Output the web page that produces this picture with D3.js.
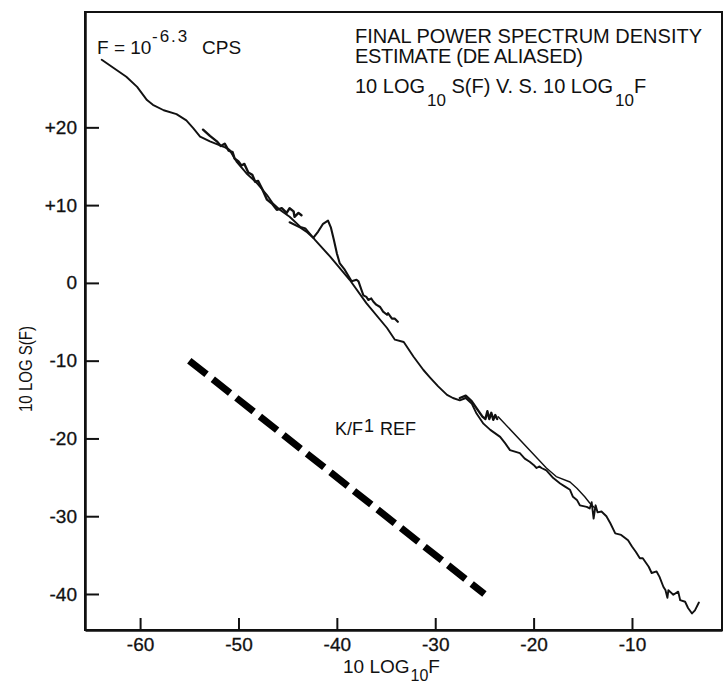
<!DOCTYPE html>
<html>
<head>
<meta charset="utf-8">
<script src="https://cdn.jsdelivr.net/npm/d3@7"></script>
<style>
  body { margin: 0; background: #fff; }
  svg { display: block; }
  text { font-family: "Liberation Sans", Arial, sans-serif; fill: #111; }
</style>
</head>
<body>
<div id="chart"></div>
<script>
const width = 724;
const height = 684;

// tick values
const xTicks = [-60, -50, -40, -30, -20, -10, 0];
const yTicks = [20, 10, 0, -10, -20, -30, -40];

// spectrum pieces, [10 log10 F, 10 log S(F)]
const lowBand = [
  [-63.9, 28.7], [-61.4, 26.5], [-60.3, 25.2], [-59.3, 23.5], [-58.7, 22.9], [-57.6, 22.2],
  [-56.3, 21.7], [-55.3, 20.9], [-54.6, 19.9], [-53.9, 18.8], [-52.9, 18.2], [-51.5, 17.5],
  [-50.9, 17.1], [-50.2, 15.6], [-49.2, 14.1], [-48.1, 12.8], [-47.1, 11.3], [-46.5, 10.2],
  [-45.8, 9.4], [-44.8, 8.5], [-43.7, 7.2], [-43.2, 7.0], [-42.2, 5.5], [-40.7, 3.4],
  [-38.7, 0.4], [-37.0, -2.6], [-34.9, -5.8], [-34.1, -7.3], [-33.2, -7.6], [-32.2, -9.5],
  [-31.2, -11.2], [-30.5, -12.2], [-29.7, -13.3], [-28.8, -14.4], [-28.2, -14.8], [-27.5, -15.1],
  [-26.9, -14.8], [-26.3, -15.5], [-25.8, -16.8], [-25.1, -18.1], [-24.4, -18.9], [-23.4, -19.8],
  [-22.9, -20.6], [-22.4, -21.5], [-21.9, -21.7], [-21.4, -21.9], [-20.9, -22.6], [-20.4, -23.0],
  [-20.0, -23.4], [-19.7, -23.8], [-19.4, -23.6], [-19.2, -23.8], [-18.7, -24.1], [-18.0, -25.1],
  [-17.3, -25.8], [-16.8, -26.2], [-16.3, -26.6], [-16.0, -27.5], [-15.6, -27.9], [-15.3, -28.6],
  [-14.6, -28.8], [-14.3, -29.0], [-14.1, -28.2], [-13.9, -30.3], [-13.7, -28.6], [-13.5, -29.5],
  [-13.1, -29.4], [-12.6, -30.0], [-12.2, -30.9], [-11.7, -32.2], [-11.1, -32.4], [-10.7, -32.8],
  [-10.4, -33.1], [-10.0, -33.9], [-9.6, -34.6], [-9.2, -35.4], [-8.9, -35.4], [-8.3, -36.5],
  [-8.0, -37.3], [-7.5, -37.1], [-7.2, -37.8], [-6.8, -39.1], [-6.6, -39.5], [-6.4, -40.5],
  [-6.3, -39.5], [-5.8, -40.1], [-5.3, -39.7], [-5.1, -40.8], [-4.6, -41.0], [-4.3, -41.8],
  [-3.9, -42.5], [-3.6, -42.1], [-3.2, -41.1]
];

const midBand = [
  [-53.6, 19.7], [-52.9, 18.9], [-52.2, 18.2], [-51.8, 17.6], [-51.4, 17.9], [-51.0, 17.0],
  [-50.6, 16.8], [-50.4, 16.0], [-50.0, 15.6], [-49.7, 15.1], [-49.4, 15.3], [-49.0, 14.2],
  [-48.6, 13.9], [-48.3, 13.0], [-48.0, 13.1], [-47.6, 12.1], [-47.1, 10.7], [-46.6, 10.2],
  [-46.1, 9.4], [-45.6, 9.6], [-45.1, 9.0], [-44.8, 9.6], [-44.4, 9.2], [-44.3, 8.5],
  [-43.9, 9.0], [-43.6, 8.7]
];

const bumpBand = [
  [-44.8, 7.8], [-43.7, 7.1], [-43.1, 6.6], [-42.4, 5.8], [-41.9, 6.6], [-41.4, 7.6],
  [-40.9, 8.0], [-40.6, 7.1], [-40.3, 5.5], [-40.0, 3.8], [-39.7, 2.5], [-39.2, 1.7],
  [-38.5, 0.2], [-38.0, 0.4], [-37.8, 0.2], [-37.5, -0.9], [-37.3, -1.6], [-37.0, -1.8],
  [-36.8, -2.2], [-36.5, -2.0], [-36.3, -2.4], [-36.0, -2.8], [-35.6, -3.1], [-35.3, -3.7],
  [-34.9, -4.1], [-34.8, -3.9], [-34.4, -4.6], [-34.1, -4.6], [-33.8, -5.0]
];

const tailBlip = [
  [-27.5, -14.8], [-26.9, -14.5], [-26.3, -15.2], [-25.7, -16.3], [-25.2, -17.2], [-24.9, -17.5],
  [-24.7, -16.5], [-24.5, -17.5], [-24.3, -16.7], [-24.1, -17.6], [-23.9, -17.0], [-23.7, -17.5]
];

const highBand = [
  [-23.6, -17.2], [-18.7, -23.8], [-17.7, -24.9], [-16.3, -25.6], [-15.6, -26.4],
  [-14.8, -27.5], [-14.3, -28.3], [-13.8, -28.9]
];

// K/F reference slope
const refLine = [[-55, -10], [-25, -40]];

const margin = {top: 12, right: 2, bottom: 54, left: 85};

const svg = d3.select("#chart")
  .append("svg")
  .attr("width", width)
  .attr("height", height);

const x = d3.scaleLinear()
  .domain([-65.6, -0.85])
  .range([margin.left, width - margin.right]);

const y = d3.scaleLinear()
  .domain([-44.63, 34.83])
  .range([height - margin.bottom, margin.top]);

const fmt = d => d > 0 ? "+" + d : String(d);

// frame
svg.append("rect")
  .attr("x", margin.left)
  .attr("y", margin.top)
  .attr("width", width - margin.right - margin.left)
  .attr("height", height - margin.bottom - margin.top)
  .attr("fill", "none")
  .attr("stroke", "#111")
  .attr("stroke-width", 2);

const xAxis = svg.append("g")
  .attr("transform", `translate(0,${height - margin.bottom})`)
  .call(d3.axisBottom(x).tickValues(xTicks).tickSize(-12).tickSizeOuter(0).tickPadding(8).tickFormat(fmt));

const yAxis = svg.append("g")
  .attr("transform", `translate(${margin.left},0)`)
  .call(d3.axisLeft(y).tickValues(yTicks).tickSize(-14).tickSizeOuter(0).tickPadding(8).tickFormat(fmt));

[xAxis, yAxis].forEach(g => {
  g.select(".domain").attr("stroke", "#111").attr("stroke-width", 2.5);
  g.selectAll(".tick line").attr("stroke", "#111").attr("stroke-width", 2);
  g.selectAll(".tick text")
    .attr("font-family", "Liberation Sans, Arial, sans-serif")
    .attr("font-size", 19)
    .attr("fill", "#111")
    .attr("stroke", "#111")
    .attr("stroke-width", 0.3);
});

// curves
const line = d3.line()
  .x(d => x(d[0]))
  .y(d => y(d[1]));

const pieces = [
  {data: lowBand, w: 1.9},
  {data: midBand, w: 2.4},
  {data: bumpBand, w: 2.1},
  {data: tailBlip, w: 2.4},
  {data: highBand, w: 1.4}
];

svg.append("g")
  .selectAll("path")
  .data(pieces)
  .join("path")
    .attr("d", d => line(d.data))
    .attr("fill", "none")
    .attr("stroke", "#111")
    .attr("stroke-width", d => d.w)
    .attr("stroke-linejoin", "round")
    .attr("stroke-linecap", "round");

svg.append("path")
  .attr("d", line(refLine))
  .attr("fill", "none")
  .attr("stroke", "#000")
  .attr("stroke-width", 7)
  .attr("stroke-dasharray", "22,8");

// axis titles
svg.append("text")
  .attr("transform", "translate(32,369) rotate(-90)")
  .attr("text-anchor", "middle")
  .attr("font-size", 19)
  .attr("fill", "#111")
  .attr("textLength", 86)
  .attr("lengthAdjust", "spacingAndGlyphs")
  .text("10 LOG S(F)");

const xt = svg.append("text")
  .attr("x", 343)
  .attr("y", 673)
  .attr("font-size", 19);
xt.append("tspan").text("10 LOG");
xt.append("tspan").attr("font-size", 16).attr("dy", 8).attr("dx", 1).text("10");
xt.append("tspan").attr("dy", -8).text("F");

// annotations
svg.append("text")
  .attr("x", 355).attr("y", 43)
  .attr("font-size", 20)
  .attr("textLength", 347)
  .text("FINAL POWER SPECTRUM DENSITY");

svg.append("text")
  .attr("x", 355).attr("y", 63)
  .attr("font-size", 20)
  .attr("textLength", 228)
  .text("ESTIMATE (DE ALIASED)");

const t3 = svg.append("text")
  .attr("x", 355).attr("y", 93)
  .attr("font-size", 20);
t3.append("tspan").text("10 LOG");
t3.append("tspan").attr("font-size", 17).attr("dy", 13).attr("dx", 2).text("10");
t3.append("tspan").attr("dy", -13).text(" S(F) V. S.  10 LOG");
t3.append("tspan").attr("font-size", 17).attr("dy", 13).attr("dx", 2).text("10");
t3.append("tspan").attr("dy", -13).text("F");

const fLabel = svg.append("text")
  .attr("x", 97).attr("y", 54)
  .attr("font-size", 19);
fLabel.append("tspan").text("F = 10");
fLabel.append("tspan").attr("x", 152).attr("font-size", 17).attr("dy", -12)
  .attr("letter-spacing", 2).text("-6.3");
fLabel.append("tspan").attr("x", 202).attr("dy", 12).text("CPS");

const refLabel = svg.append("text")
  .attr("x", 335).attr("y", 435)
  .attr("font-size", 18);
refLabel.append("tspan").text("K/F");
refLabel.append("tspan").attr("dy", -3).attr("dx", 1).text("1");
refLabel.append("tspan").attr("dy", 3).attr("dx", 6).text("REF");
</script>
</body>
</html>
